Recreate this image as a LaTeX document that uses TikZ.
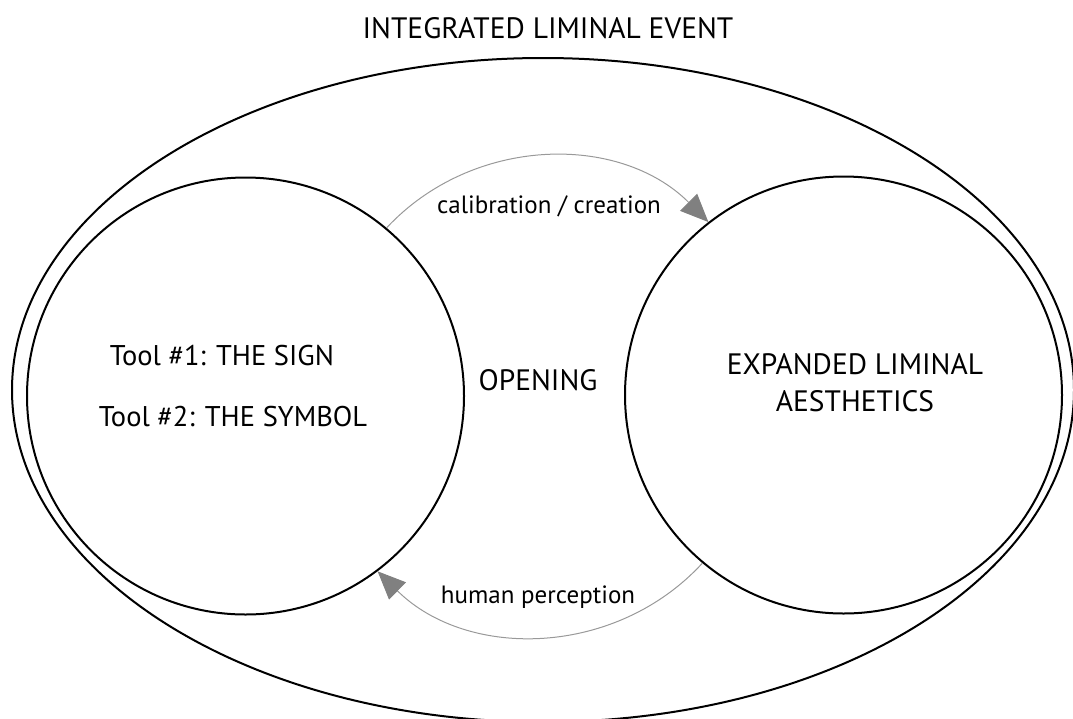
\documentclass[tikz,border=0pt]{standalone}
\usepackage{fontspec}
\setmainfont{PT Sans}
\usetikzlibrary{arrows.meta,shapes.geometric}

\begin{document}
\begin{tikzpicture}
  [x=1pt,y=-1pt,
   ring/.style={circle,draw,line width=2pt,inner sep=0pt,minimum size=437pt},
   big/.style={font=\fontsize{29.5}{37}\selectfont,inner sep=0pt},
   tool/.style={font=\fontsize{28.5}{34}\selectfont,inner sep=0pt},
   small/.style={font=\fontsize{25}{30}\selectfont,inner sep=0pt},
   flow/.style={draw=gray!80,line width=1pt,-{Triangle[length=28pt,width=24pt,color=gray]}}]
  \useasboundingbox (0,0) rectangle (1073,718);
  \node[ellipse,draw,line width=2pt,inner sep=0pt,minimum width=1062pt,minimum height=664pt] (event) at (543,390) {};
  \node[big] (title) at (548,28) {INTEGRATED LIMINAL EVENT};
  \node[ring] (tools) at (245.5,396) {};
  \node[ring] (aesthetics) at (843.5,395) {};
  \node[tool] (sign) at (222,356) {Tool \#1: THE SIGN};
  \node[tool] (symbol) at (233,417) {Tool \#2: THE SYMBOL};
  \node[big] (opening) at (538,380) {OPENING};
  \node[big,align=center] (expanded) at (855,383) {EXPANDED LIMINAL\\AESTHETICS};
  \node[small] (creation) at (549,206) {calibration / creation};
  \node[small] (perception) at (538,597) {human perception};
  \draw[flow] (tools.50) to[bend left=46] (aesthetics.128);
  \draw[flow] (aesthetics.-130) to[bend left=46] (tools.-53);
\end{tikzpicture}
\end{document}
